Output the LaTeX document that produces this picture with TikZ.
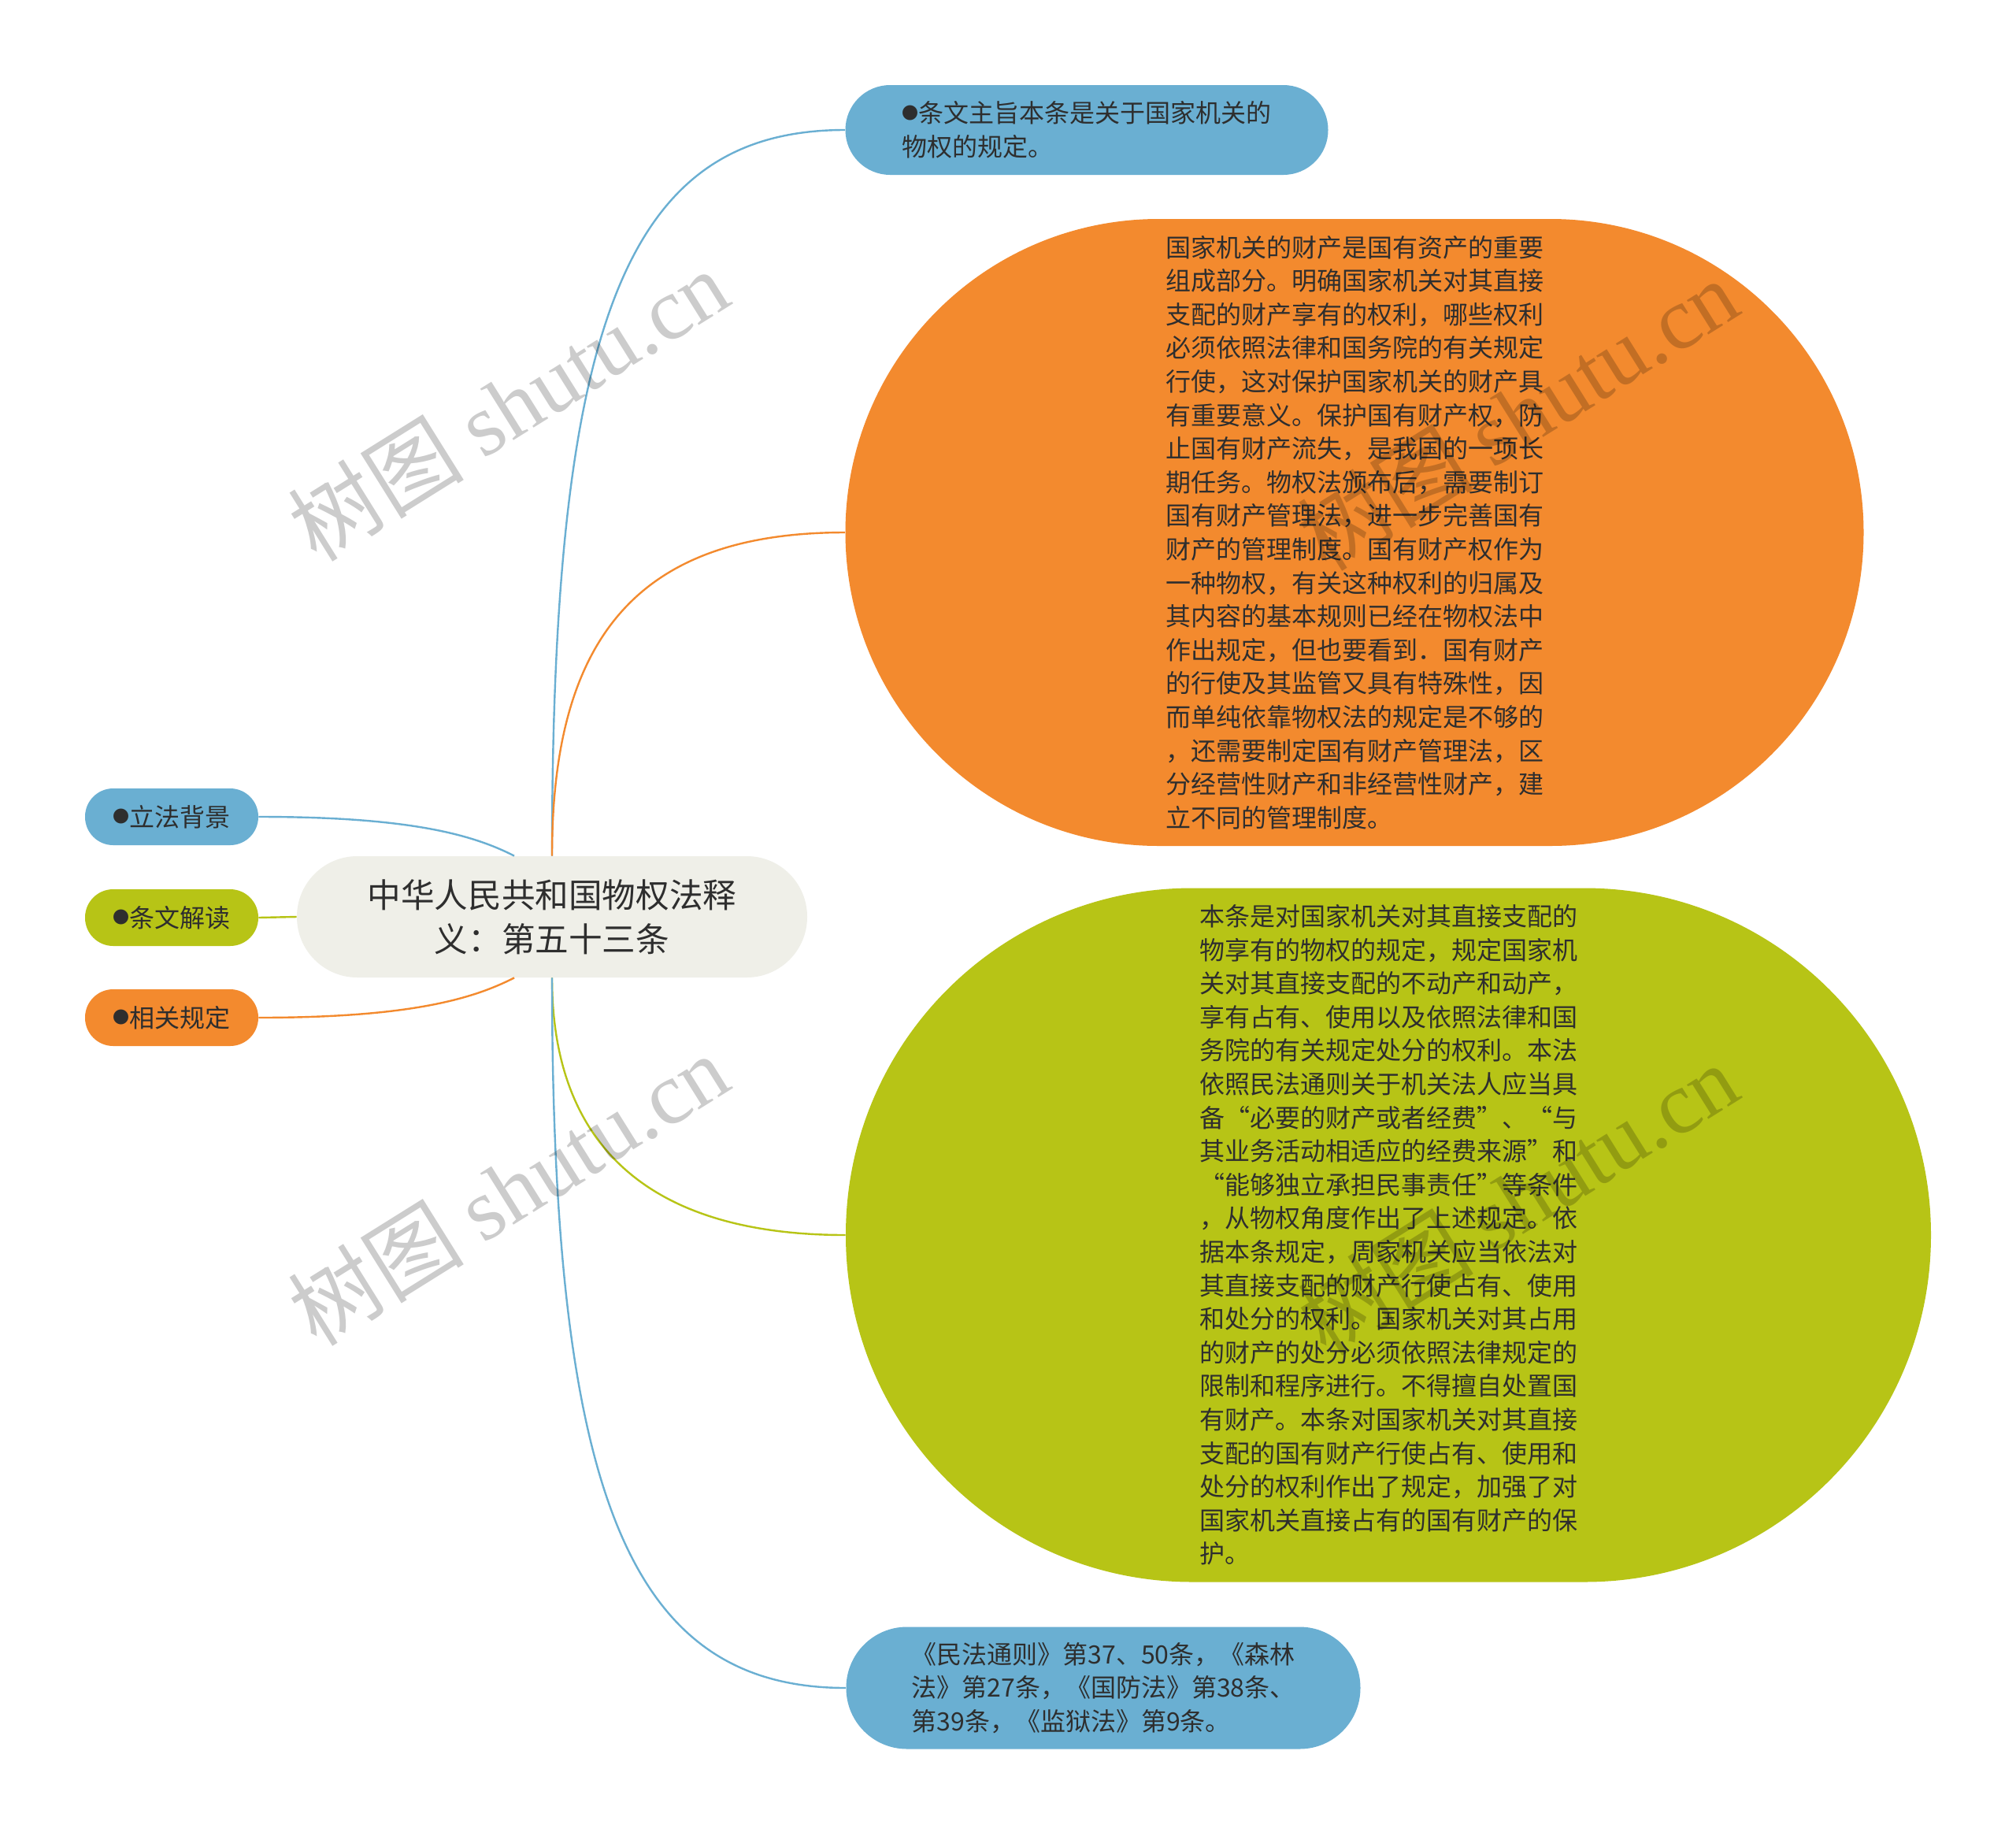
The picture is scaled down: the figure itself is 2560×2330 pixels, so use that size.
\documentclass[tikz,border=0pt]{standalone}
\usepackage{fontspec}
\setmainfont{Noto Sans CJK SC}
\newfontfamily\cjk{Noto Sans CJK SC}
\newfontfamily\wmlatin{Liberation Serif}
\usetikzlibrary{calc}
\definecolor{mblue}{HTML}{6AAFD2}
\definecolor{morange}{HTML}{F38A2E}
\definecolor{mgreen}{HTML}{B7C416}
\definecolor{mcenter}{HTML}{EFEFE8}
\definecolor{mtext}{HTML}{2E2E2E}
\newcommand{\mbul}{\raisebox{2.2pt}{\fontsize{10.5}{10.5}\selectfont ●}}
\begin{document}
\begin{tikzpicture}[x=0.5pt,y=-0.5pt,
  pill/.style={inner sep=0pt, text=mtext, align=left,
    font=\fontsize{16}{21.3}\selectfont},
  leafbox/.style={pill, minimum width=110pt, minimum height=36pt, rounded corners=17.9pt},
  centerbox/.style={inner sep=0pt, text=mtext, align=center, fill=mcenter,
    minimum width=324pt, minimum height=77pt, rounded corners=38.4pt,
    font=\fontsize{21.3}{27.8}\selectfont},
  link/.style={line width=1.2pt},
  wm/.style={rotate=32, text=black, opacity=0.2, font=\fontsize{56}{56}\selectfont, inner sep=0pt}
]
\useasboundingbox (0,0) rectangle (2560,2330);
\fill[white] (0,0) rectangle (2560,2330);

% nodes
\node[centerbox] (c) at (701,1164) {中华人民共和国物权法释\\义：第五十三条};

\node[leafbox, fill=mblue] (l1) at (218,1037) {\mbul 立法背景};
\node[leafbox, fill=mgreen] (l2) at (218,1165) {\mbul 条文解读};
\node[leafbox, fill=morange] (l3) at (218,1292) {\mbul 相关规定};

\node[pill, fill=mblue, minimum width=306.5pt, minimum height=57pt, rounded corners=28.4pt]
  (t) at (1380,165) {\mbul 条文主旨本条是关于国家机关的\\物权的规定。};

\node[pill, fill=morange, minimum width=646.5pt, minimum height=398pt, rounded corners=198.9pt]
  (o) at (1720,676) {国家机关的财产是国有资产的重要\\
组成部分。明确国家机关对其直接\\
支配的财产享有的权利，哪些权利\\
必须依照法律和国务院的有关规定\\
行使，这对保护国家机关的财产具\\
有重要意义。保护国有财产权，防\\
止国有财产流失，是我国的一项长\\
期任务。物权法颁布后，需要制订\\
国有财产管理法，进一步完善国有\\
财产的管理制度。国有财产权作为\\
一种物权，有关这种权利的归属及\\
其内容的基本规则已经在物权法中\\
作出规定，但也要看到．国有财产\\
的行使及其监管又具有特殊性，因\\
而单纯依靠物权法的规定是不够的\\
，还需要制定国有财产管理法，区\\
分经营性财产和非经营性财产，建\\
立不同的管理制度。};

\node[pill, fill=mgreen, minimum width=689pt, minimum height=440.5pt, rounded corners=220pt]
  (g) at (1763,1568) {本条是对国家机关对其直接支配的\\
物享有的物权的规定，规定国家机\\
关对其直接支配的不动产和动产，\\
享有占有、使用以及依照法律和国\\
务院的有关规定处分的权利。本法\\
依照民法通则关于机关法人应当具\\
备“必要的财产或者经费”、“与\\
其业务活动相适应的经费来源”和\\
“能够独立承担民事责任”等条件\\
，从物权角度作出了上述规定。依\\
据本条规定，周家机关应当依法对\\
其直接支配的财产行使占有、使用\\
和处分的权利。国家机关对其占用\\
的财产的处分必须依照法律规定的\\
限制和程序进行。不得擅自处置国\\
有财产。本条对国家机关对其直接\\
支配的国有财产行使占有、使用和\\
处分的权利作出了规定，加强了对\\
国家机关直接占有的国有财产的保\\
护。};

\node[pill, fill=mblue, minimum width=326.5pt, minimum height=77.5pt, rounded corners=38.6pt]
  (b) at (1401,2143) {《民法通则》第37、50条，《森林\\法》第27条，《国防法》第38条、\\第39条，《监狱法》第9条。};

% connectors
\coordinate (cnl) at ($(c.north)+(-48,0)$);
\coordinate (csl) at ($(c.south)+(-48,0)$);

\draw[link, mblue] (c.north) .. controls ($(c.north)+(0,-687)$) and ($(t.west)+(-274,0)$) .. (t.west);
\draw[link, morange] (c.north) .. controls ($(c.north)+(0,-287)$) and ($(o.west)+(-254,0)$) .. (o.west);
\draw[link, mgreen] (c.south) .. controls ($(c.south)+(0,209)$) and ($(g.west)+(-254,0)$) .. (g.west);
\draw[link, mblue] (c.south) .. controls ($(c.south)+(0,659)$) and ($(b.west)+(-274,0)$) .. (b.west);

\draw[link, mblue] (l1.east) .. controls ($(l1.east)+(192,0)$) and ($(cnl)+(-53,-27)$) .. (cnl);
\draw[link, mgreen] (l2.east) -- (c.west);
\draw[link, morange] (l3.east) .. controls ($(l3.east)+(192,0)$) and ($(csl)+(-53,27)$) .. (csl);

% watermarks
\node[wm] (w1) at (645,514) {{\cjk 树图} {\wmlatin shutu.cn}};
\node[wm] (w2) at (645,1510) {{\cjk 树图} {\wmlatin shutu.cn}};
\node[wm] (w3) at (1927,526) {{\cjk 树图} {\wmlatin shutu.cn}};
\node[wm] (w4) at (1927,1522) {{\cjk 树图} {\wmlatin shutu.cn}};
\end{tikzpicture}
\end{document}
